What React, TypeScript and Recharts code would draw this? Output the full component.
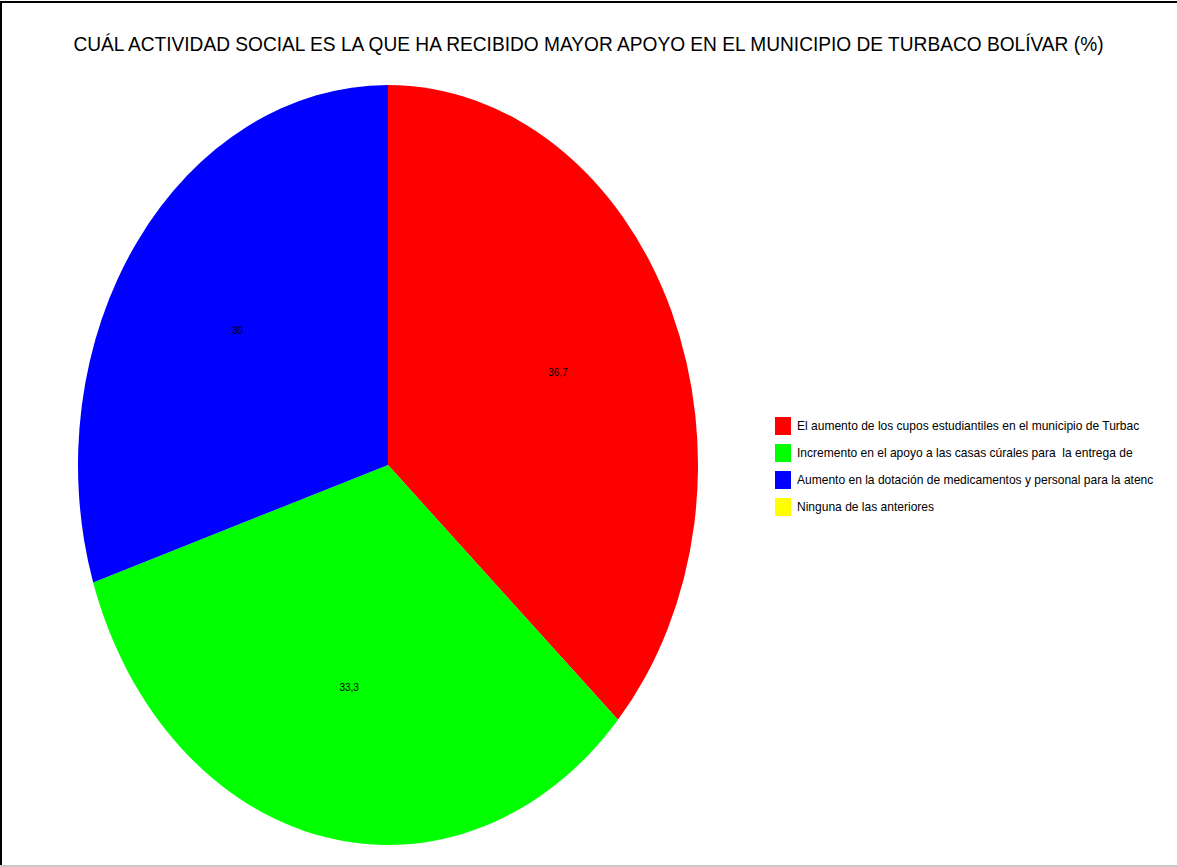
import React from 'react';
import { PieChart, Pie, Cell } from 'recharts';

const TITLE = 'CUÁL ACTIVIDAD SOCIAL ES LA QUE HA RECIBIDO MAYOR APOYO EN EL MUNICIPIO DE TURBACO BOLÍVAR (%)';

const categories = [
  'El aumento de los cupos estudiantiles en el municipio de Turbac',
  'Incremento en el apoyo a las casas cúrales para  la entrega de',
  'Aumento en la dotación de medicamentos y personal para la atenc',
  'Ninguna de las anteriores',
];
const values = [36.7, 33.3, 30, 0];
const colors = ['#ff0000', '#00ff00', '#0000ff', '#ffff00'];

const data = categories.map((name, i) => ({ name, value: values[i] }));

// pie is drawn as a circle then stretched vertically into the ellipse
const RX = 310;
const RY = 380;
const K = RY / RX;
const RAD = Math.PI / 180;

const fmt = (v: number) => String(v).replace('.', ',');

function SliceLabel(props: any) {
  const { cx, cy, midAngle, outerRadius, value } = props;
  if (!value) return null;
  const r = outerRadius * 0.6;
  const x = cx + r * Math.cos(-midAngle * RAD);
  const y = cy + r * Math.sin(-midAngle * RAD);
  return (
    <text
      transform={`translate(${x},${y}) scale(1,${1 / K})`}
      x={0}
      y={0}
      textAnchor="middle"
      dominantBaseline="central"
      fill="#000"
      fontSize={10}
      fontFamily="'Liberation Sans', Arial, sans-serif"
    >
      {fmt(value)}
    </text>
  );
}

export default function App() {
  const W = 700;
  const H = 640;
  const cx = 388;
  const cy = H / 2;
  return (
    <div
      style={{
        position: 'absolute',
        left: 0,
        top: 0,
        width: 1177,
        height: 867,
        background: '#fff',
        overflow: 'hidden',
        fontFamily: "'Liberation Sans', Arial, sans-serif",
      }}
    >
      <div style={{ position: 'absolute', left: 0, top: 1, width: 1177, height: 2, background: '#000' }} />
      <div style={{ position: 'absolute', left: 0, top: 1, width: 2, height: 866, background: '#000' }} />
      <div style={{ position: 'absolute', left: 0, top: 865, width: 1177, height: 2, background: '#c8c8c8' }} />

      <div
        style={{
          position: 'absolute',
          left: 0,
          top: 32,
          width: 1177,
          textAlign: 'center',
          fontSize: 21,
          color: '#000',
          whiteSpace: 'nowrap',
          transform: 'scaleX(0.911)',
          transformOrigin: '588px 0',
        }}
      >
        {TITLE}
      </div>

      <div
        style={{
          position: 'absolute',
          left: 0,
          top: 465 - cy,
          width: W,
          height: H,
          transform: `scaleY(${K})`,
          transformOrigin: `${cx}px ${cy}px`,
        }}
      >
        <PieChart width={W} height={H} margin={{ top: 0, right: 0, bottom: 0, left: 0 }}>
          <Pie
            data={data}
            dataKey="value"
            nameKey="name"
            cx={cx}
            cy={cy}
            outerRadius={RX}
            startAngle={90}
            endAngle={-270}
            stroke="none"
            label={SliceLabel}
            labelLine={false}
            isAnimationActive={false}
          >
            {data.map((d, i) => (
              <Cell key={d.name} fill={colors[i]} />
            ))}
          </Pie>
        </PieChart>
      </div>

      <div style={{ position: 'absolute', left: 775, top: 412 }}>
        {categories.map((c, i) => (
          <div key={c} style={{ display: 'flex', alignItems: 'center', height: 27, whiteSpace: 'pre' }}>
            <div style={{ width: 16, height: 18, background: colors[i], marginRight: 6, flexShrink: 0 }} />
            <span
              style={{
                fontSize: 13,
                color: '#000',
                display: 'inline-block',
                transform: 'scaleX(0.925)',
                transformOrigin: '0 50%',
              }}
            >
              {c}
            </span>
          </div>
        ))}
      </div>
    </div>
  );
}
